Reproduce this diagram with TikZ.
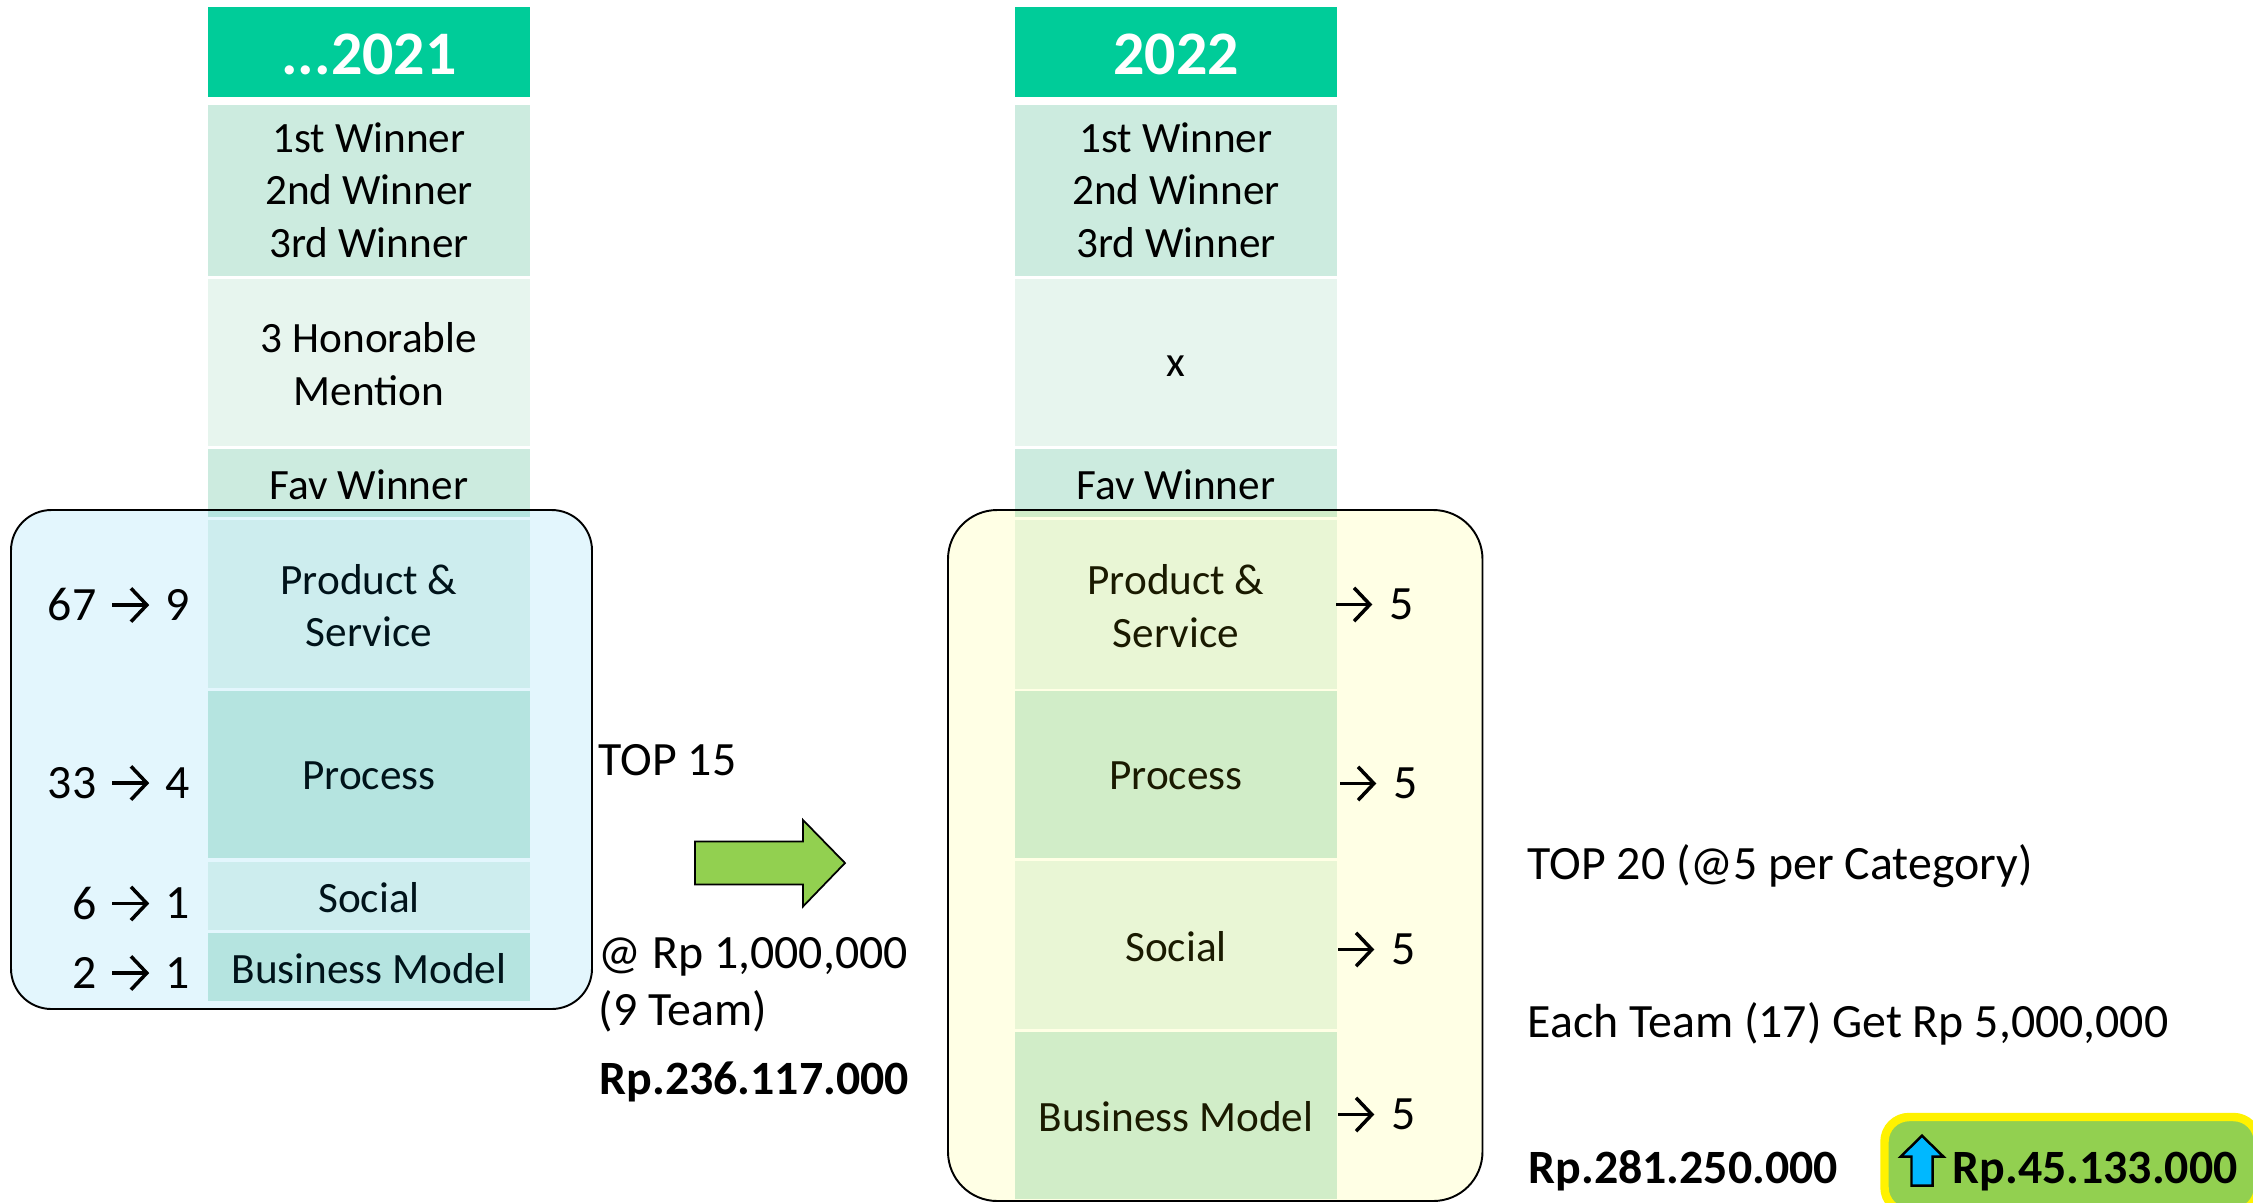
\documentclass[tikz,border=0pt]{standalone}
\usepackage{fontspec}
\setmainfont{Carlito}
\usepackage{xcolor}
\usetikzlibrary{calc}
\usetikzlibrary{arrows.meta}
\definecolor{headgreen}{HTML}{00CC99}
\definecolor{rowdark}{HTML}{CCEBDF}
\definecolor{rowlight}{HTML}{E7F5EE}
\definecolor{boxblue}{HTML}{00B0F0}
\definecolor{boxyellow}{HTML}{FFFF00}
\definecolor{limegreen}{HTML}{92D050}
\definecolor{upblue}{HTML}{00B8FF}
\tikzstyle{headshade}=[fill=headgreen]
\tikzstyle{darkshade}=[fill=rowdark]
\tikzstyle{lightshade}=[fill=rowlight]
\tikzstyle{celltext}=[align=center,inner sep=0pt,font=\fontsize{12.3}{14.9}\selectfont]
\tikzstyle{headtext}=[inner sep=0pt,text=white,font=\fontsize{17.6}{20}\selectfont\bfseries]
\tikzstyle{sidetext}=[inner sep=0pt,font=\fontsize{13.6}{16}\selectfont]
\tikzstyle{sumtext}=[inner sep=0pt,anchor=base west,font=\fontsize{13.6}{16}\selectfont\bfseries]
\tikzstyle{numarrow}=[line width=1pt,-{Straight Barb[length=4.5pt,width=9.5pt]}]
\newcommand{\prizeCell}[6]{
	\fill[#1] (#3,#4) rectangle ($(#3,#5)+(322,0)$);
	\node[celltext] (#2) at ($1/2*(#3,#4)+1/2*(#3,#5)+(161,1.5)$) {#6};
}
\begin{document}
\begin{tikzpicture}[x=.01cm,y=-.01cm]
	\useasboundingbox (0,0) rectangle (2253,1202);
	\clip (0,0) rectangle (2253,1202);
	% 2021 column
	\fill[headshade] (208,7) rectangle (530,97);
	\node[headtext] (headA) at (369,54) {...2021};
	\fill[darkshade] (208,105) rectangle (530,276);
	\node[celltext] (winnerA) at (369,190) {1st Winner\\2nd Winner\\3rd Winner};
	\prizeCell{lightshade}{honorA}{208}{279}{446}{3 Honorable\\Mention}
	\prizeCell{darkshade}{favA}{208}{449}{517}{Fav Winner}
	\prizeCell{lightshade}{productA}{208}{520}{688}{Product \&\\Service}
	\prizeCell{darkshade}{processA}{208}{691}{858}{Process}
	\prizeCell{lightshade}{socialA}{208}{862}{930}{Social}
	\prizeCell{darkshade}{businessA}{208}{933}{1001}{Business Model}
	% 2022 column
	\fill[headshade] (1015,7) rectangle (1337,97);
	\node[headtext] (headB) at (1176,54) {2022};
	\fill[darkshade] (1015,105) rectangle (1337,276);
	\node[celltext] (winnerB) at (1176,190) {1st Winner\\2nd Winner\\3rd Winner};
	\fill[lightshade] (1015,279) rectangle (1337,446);
	\node[celltext] (honorB) at (1176,366) {x};
	\prizeCell{darkshade}{favB}{1015}{449}{517}{Fav Winner}
	\prizeCell{lightshade}{productB}{1015}{520}{689}{Product \&\\Service}
	\prizeCell{darkshade}{processB}{1015}{691}{858}{Process}
	\prizeCell{lightshade}{socialB}{1015}{861}{1029}{Social}
	\prizeCell{darkshade}{businessB}{1015}{1032}{1199}{Business Model}
	% see-through boxes
	\draw[rounded corners=11.5pt,line width=.55pt,fill=boxblue,fill opacity=.11] (11,510) rectangle (592,1009);
	\draw[rounded corners=14pt,line width=.55pt,fill=boxyellow,fill opacity=.1] (948,510) rectangle (1482.5,1201);
	% counts 2021
	\node[sidetext,anchor=east] (fromA) at (97,605) {67};
	\node[sidetext,anchor=east] (toA) at (190,605) {9};
	\node[sidetext,anchor=east] (fromB) at (97,783) {33};
	\node[sidetext,anchor=east] (toB) at (190,783) {4};
	\node[sidetext,anchor=east] (fromC) at (97,903.5) {6};
	\node[sidetext,anchor=east] (toC) at (190,903.5) {1};
	\node[sidetext,anchor=east] (fromD) at (97,973) {2};
	\node[sidetext,anchor=east] (toD) at (190,973) {1};
	\draw[numarrow,shorten <=4.3pt,shorten >=4.3pt] (fromA) -- (toA);
	\draw[numarrow,shorten <=4.3pt,shorten >=4.3pt] (fromB) -- (toB);
	\draw[numarrow,shorten <=4.3pt,shorten >=4.3pt] (fromC) -- (toC);
	\draw[numarrow,shorten <=4.3pt,shorten >=4.3pt] (fromD) -- (toD);
	% counts 2022
	\coordinate (startA) at (1336,604.5);
	\coordinate (startB) at (1340,783.5);
	\coordinate (startC) at (1338,949.5);
	\coordinate (startD) at (1338,1114.5);
	\node[sidetext] (fiveA) at (1402,604.5) {5};
	\node[sidetext] (fiveB) at (1406,783.5) {5};
	\node[sidetext] (fiveC) at (1404,949.5) {5};
	\node[sidetext] (fiveD) at (1404,1114.5) {5};
	\draw[numarrow,shorten >=4.8pt] (startA) -- (fiveA);
	\draw[numarrow,shorten >=4.8pt] (startB) -- (fiveB);
	\draw[numarrow,shorten >=4.8pt] (startC) -- (fiveC);
	\draw[numarrow,shorten >=4.8pt] (startD) -- (fiveD);
	% middle notes
	\node[sidetext,anchor=base west] (topA) at (598,775) {TOP 15};
	\node[sidetext,anchor=base west] (rateA) at (598,968) {@ Rp 1,000,000};
	\node[sidetext,anchor=base west] (teamA) at (598,1025) {(9 Team)};
	\node[sumtext] (sumA) at (599,1094) {Rp.236.117.000};
	\draw[line width=.5pt,fill=limegreen] (695,841.5) -- (803,841.5) -- (803,820) -- (845,863) -- (803,906.5) -- (803,884.6) -- (695,884.6) -- cycle;
	% right notes
	\node[sidetext,anchor=base west] (topB) at (1527,879) {TOP 20 (@5 per Category)};
	\node[sidetext,anchor=base west] (rateB) at (1527,1037) {Each Team (17) Get Rp 5,000,000};
	\node[sumtext] (sumB) at (1528,1183.5) {Rp.281.250.000};
	\draw[rounded corners=7pt,line width=2.4pt,draw=yellow,fill=limegreen] (1884.5,1117) rectangle (2258,1212);
	\draw[line width=.7pt,fill=upblue] (1922,1135.7) -- (1943.5,1156.7) -- (1932.7,1156.7) -- (1932.7,1185.7) -- (1911.5,1185.7) -- (1911.5,1156.7) -- (1900.6,1156.7) -- cycle;
	\node[sumtext] (gainB) at (1952,1183.5) {Rp.45.133.000};
\end{tikzpicture}
\end{document}
